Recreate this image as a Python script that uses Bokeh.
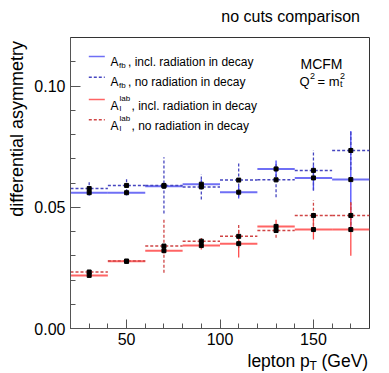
from bokeh.plotting import figure
from bokeh.models import Label, FixedTicker, NumeralTickFormatter, Range1d
from bokeh.embed import file_html
from bokeh.resources import INLINE

# ---------------- data ----------------
bin_lo = [20, 40, 60, 80, 100, 120, 140, 160]
bin_hi = [40, 60, 80, 100, 120, 140, 160, 180]
centers = [30, 50, 70, 90, 110, 130, 150, 170]

afb_incl = [0.0560, 0.0560, 0.0587, 0.0595, 0.0562, 0.0658, 0.0621, 0.0614]
afb_incl_err = [0.0012, 0.0012, 0.0012, 0.0019, 0.0026, 0.0035, 0.0052, 0.0200]
afb_norad = [0.0577, 0.0590, 0.0590, 0.0584, 0.0612, 0.0613, 0.0652, 0.0734]
afb_norad_err = [0.0027, 0.0028, 0.0116, 0.0052, 0.0068, 0.0072, 0.0083, 0.0080]
al_incl = [0.0219, 0.0277, 0.0321, 0.0342, 0.0350, 0.0421, 0.0408, 0.0408]
al_incl_err = [0.0010, 0.0008, 0.0012, 0.0016, 0.0057, 0.0027, 0.0041, 0.0108]
al_norad = [0.0233, 0.0278, 0.0340, 0.0360, 0.0380, 0.0404, 0.0466, 0.0466]
al_norad_err = [0.0010, 0.0010, 0.0110, 0.0020, 0.0048, 0.0030, 0.0063, 0.0060]

x_ticks = [50, 100, 150]
y_ticks = [0.0, 0.05, 0.10]

FONT = "Liberation Sans"

W, H = 389, 373
p = figure(width=W, height=H, output_backend="svg", toolbar_location=None,
           x_range=Range1d(20, 180), y_range=Range1d(0, 0.12),
           min_border_left=70, min_border_right=20, min_border_top=37, min_border_bottom=45)
p.xgrid.visible = False
p.ygrid.visible = False
p.outline_line_color = "#333333"
p.outline_line_width = 1
p.background_fill_color = "white"
p.border_fill_color = "white"

for ax in (p.xaxis[0], p.yaxis[0]):
    ax.axis_line_color = "#555555"
    ax.major_tick_line_color = "#555555"
    ax.minor_tick_line_color = "#555555"
    ax.major_tick_out = 0
    ax.minor_tick_out = 0
    ax.major_label_text_font = FONT
    ax.major_label_text_font_size = "16px"
    ax.major_label_text_color = "black"

p.yaxis.major_tick_in = 10
p.yaxis.minor_tick_in = 5
p.xaxis.major_tick_in = 9
p.xaxis.minor_tick_in = 5
p.yaxis.major_label_standoff = 5
p.xaxis.major_label_standoff = 4

p.xaxis.ticker = FixedTicker(ticks=x_ticks, minor_ticks=[30, 40, 60, 70, 80, 90, 110, 120, 130, 140, 160, 170])
p.yaxis.ticker = FixedTicker(ticks=y_ticks, minor_ticks=[0.01, 0.02, 0.03, 0.04, 0.06, 0.07, 0.08, 0.09, 0.11])
p.yaxis.formatter = NumeralTickFormatter(format="0.00")

BLUE_H = "#6f6ff5"
BLUE_V = "#4a4aff"
BLUE_D = "#4646c0"
RED_H = "#ff6464"
RED_V = "#ff4c4c"
RED_D = "#d04545"


def draw(vals, errs, hcol, vcol, dash, hw):
    lo = [v - e for v, e in zip(vals, errs)]
    hi = [v + e for v, e in zip(vals, errs)]
    p.segment(x0=bin_lo, x1=bin_hi, y0=vals, y1=vals, line_color=hcol, line_width=hw, line_dash=dash)
    p.segment(x0=centers, x1=centers, y0=lo, y1=hi, line_color=vcol, line_width=1.3, line_dash=dash)


draw(afb_incl, afb_incl_err, BLUE_H, BLUE_V, "solid", 2)
draw(afb_norad, afb_norad_err, BLUE_D, BLUE_D, "3 2", 1.5)
draw(al_incl, al_incl_err, RED_H, RED_V, "solid", 2)
draw(al_norad, al_norad_err, RED_D, RED_D, "3 2", 1.5)

for vals in (afb_incl, afb_norad, al_incl, al_norad):
    p.scatter(x=centers, y=vals, marker="square", size=4, color="black")


# ---------- text helpers (positions in pixels of the reference picture) ----------
def dx(px):
    return 20 + (px - 70) * 160 / 299


def dy(py):
    return (328 - py) * 0.12 / 291


def lbl(text, px, py, size, align="left", angle=0.0, place="center"):
    lab = Label(x=dx(px), y=dy(py), text=text, text_font=FONT,
                text_font_size=f"{size}px", text_align=align,
                text_baseline="alphabetic", angle=angle, text_color="black")
    p.add_layout(lab, place)


# legend samples
samples = [(56, BLUE_H, "solid"), (76.7, BLUE_D, "3 2"), (99, RED_H, "solid"), (119.3, RED_D, "3 2")]
for py, col, dash in samples:
    p.segment(x0=[dx(88.3)], x1=[dx(104.3)], y0=[dy(py)], y1=[dy(py)], line_color=col,
              line_width=1.5, line_dash=dash)

# legend texts
lbl("A", 110, 61.5, 12)
lbl("fb", 118.5, 64.5, 8)
lbl(", incl. radiation in decay", 127.5, 61.5, 12)
lbl("A", 110, 81.5, 12)
lbl("fb", 118.5, 84.5, 8)
lbl(", no radiation in decay", 127.5, 81.5, 12)
lbl("A", 110, 105, 12)
lbl("l", 119, 108, 8)
lbl("lab", 119, 98, 8)
lbl(", incl. radiation in decay", 131, 105, 12)
lbl("A", 110, 125, 12)
lbl("l", 119, 128, 8)
lbl("lab", 119, 118, 8)
lbl(", no radiation in decay", 131, 125, 12)

# MCFM note
lbl("MCFM", 300, 63.3, 14)
lbl("Q", 299, 80.5, 13)
lbl("2", 309.5, 75.5, 9)
lbl("= m", 317, 80.5, 13)
lbl("t", 339.5, 83.5, 9)
lbl("2", 339.5, 75.5, 9)

# title and axis titles: kept in side panels (not clipped by the frame);
# their positions still come from the data scales.
lbl("no cuts comparison", 359.5, 15.5, 16, align="right", place="above")
lbl("(GeV)", 321, 360.5, 17.5, place="above")
lbl("lepton p", 247, 360.5, 17.5, place="below")
lbl("T", 309, 365, 12, place="left")
lbl("differential asymmetry", 16.5, 40.5, 18, align="right", angle=1.5707963, place="left")

open("out.html", "w").write(file_html(p, INLINE))
